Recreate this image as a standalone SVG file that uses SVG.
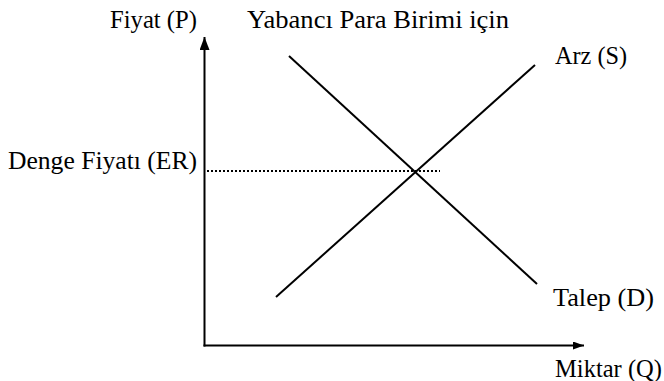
<svg xmlns="http://www.w3.org/2000/svg" width="664" height="381" viewBox="0 0 664 381">
<style>
text{font-family:"Liberation Serif","Times New Roman",serif;font-size:25px;fill:#000}
.ln{stroke:#000;stroke-width:2;fill:none}
.dot{stroke:#000;stroke-width:2;stroke-dasharray:2 2;fill:none}
</style>
<defs>
<marker id="ahy" markerWidth="13" markerHeight="10" refX="13" refY="5" orient="auto" markerUnits="userSpaceOnUse" viewBox="0 0 13 10">
<path d="M0,0 L13,5 L0,10 z" fill="#000"/>
</marker>
<marker id="ahx" markerWidth="11" markerHeight="8" refX="11" refY="4" orient="auto" markerUnits="userSpaceOnUse" viewBox="0 0 11 8">
<path d="M0,0 L11,4 L0,8 z" fill="#000"/>
</marker>
</defs>
<rect width="664" height="381" fill="#fff"/>
<g id="connectors">
<line class="ln" x1="204.5" y1="346.5" x2="204.5" y2="37" marker-end="url(#ahy)"/>
<line class="ln" x1="203.5" y1="345.5" x2="584" y2="345.5" marker-end="url(#ahx)"/>
<line class="ln" x1="289" y1="56" x2="537" y2="284"/>
<line class="ln" x1="276" y1="297" x2="535" y2="65"/>
<line class="dot" x1="207" y1="171" x2="440" y2="171"/>
</g>
<g id="labels">
<text x="110" y="28" textLength="87" lengthAdjust="spacingAndGlyphs">Fiyat (P)</text>
<text x="247" y="28" textLength="262" lengthAdjust="spacingAndGlyphs">Yabancı Para Birimi için</text>
<text x="555" y="64" textLength="72" lengthAdjust="spacingAndGlyphs">Arz (S)</text>
<text x="8" y="169" textLength="189" lengthAdjust="spacingAndGlyphs">Denge Fiyatı (ER)</text>
<text x="553" y="306" textLength="101" lengthAdjust="spacingAndGlyphs">Talep (D)</text>
<text x="555" y="377" textLength="107" lengthAdjust="spacingAndGlyphs">Miktar (Q)</text>
</g>
</svg>
